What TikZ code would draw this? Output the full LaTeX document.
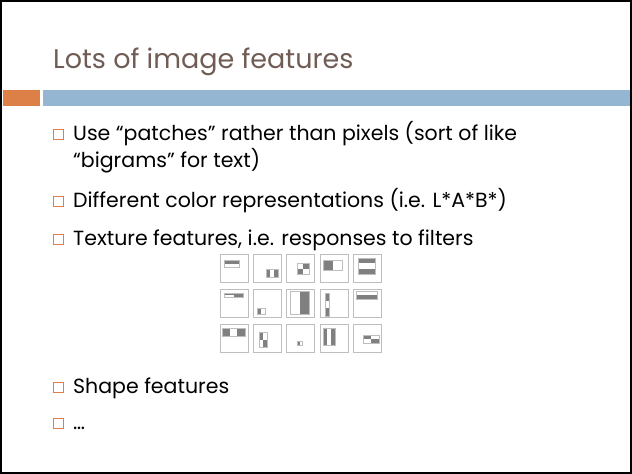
\documentclass[tikz,border=0pt]{standalone}
\usepackage{fontspec}
\setmainfont{Poppins}
\definecolor{titlecol}{RGB}{112,92,84}
\definecolor{orangec}{RGB}{221,128,71}
\definecolor{bluec}{RGB}{148,182,210}
\definecolor{hdark}{RGB}{128,128,128}
\definecolor{hline}{RGB}{190,190,190}
\newcommand\hd[4]{\fill[hdark] (#1,#2) rectangle (#3,#4);}
\newcommand\ho[4]{\draw[hline,line width=0.7pt] (#1,#2) rectangle (#3,#4);}
\begin{document}
\begin{tikzpicture}[x=1pt,y=-1pt,
  titletext/.style={font=\fontsize{27}{32}\selectfont, text=titlecol, inner sep=0pt, anchor=base west},
  bodytext/.style={font=\fontsize{20.5}{25}\selectfont, text=black, inner sep=0pt, anchor=base west},
  bul/.style={draw=orangec, line width=0.9pt, minimum size=10pt, inner sep=0pt, fill=white},
  cellbox/.style={draw=hline, line width=0.9pt}]
\useasboundingbox (0,0) rectangle (632,474);
\draw[line width=2pt, black] (1,1) rectangle (631,473);
\fill[orangec] (3,90) rectangle (40,106);
\fill[bluec] (43,90) rectangle (630,106);
\node[titletext] (title) at (53,68) {Lots of image features};
% bullets
\node[bul] (b1) at (58.5,134) {};
\node[bul] (b2) at (58.5,201) {};
\node[bul] (b3) at (58.5,239) {};
\node[bul] (b4) at (58.5,387) {};
\node[bul] (b5) at (58.5,423.5) {};
\node[bodytext] (t1) at (73,140) {Use “patches” rather than pixels (sort of like};
\node[bodytext] (t1b) at (73,167) {“bigrams” for text)};
\node[bodytext] (t2) at (73,207) {Different color representations (i.e. L*A*B*)};
\node[bodytext] (t3) at (73,245) {Texture features, i.e. responses to filters};
\node[bodytext] (t4) at (73,393) {Shape features};
\node[bodytext] (t5) at (73,429) {…};
% grid cells
\foreach \cx in {220,253,286.5,320,353}
  \foreach \cy in {254,289,324}
    \draw[cellbox] (\cx,\cy) rectangle ++(28,28);
% row 1
\hd{224}{260}{239}{263.5}\ho{224}{260}{239}{267}
\hd{266}{269}{270}{277}\hd{274}{269}{278}{277}\ho{266}{269}{278}{277}
\hd{303}{263}{309}{268.5}\hd{297}{268.5}{303}{274}\ho{297}{263}{309}{274}
\hd{323}{260}{332.5}{270}\ho{323}{260}{342}{270}
\hd{358}{258}{375}{263.3}\hd{358}{268.7}{375}{274}\ho{358}{258}{375}{274}
% row 2
\hd{224}{293}{243}{295}\hd{233.5}{295}{243}{297}\ho{224}{293}{243}{297}
\hd{257}{308}{261}{314}\ho{257}{308}{265}{314}
\hd{299.5}{291}{309}{314}\ho{290}{291}{309}{314}
\hd{325}{293}{329}{300.7}\hd{325}{308.3}{329}{316}\ho{325}{293}{329}{316}
\hd{356}{295}{377}{299}\ho{356}{291}{377}{299}
% row 3
\hd{222}{328}{229.7}{336}\hd{237.3}{328}{245}{336}\ho{222}{328}{245}{336}
\hd{259}{332}{263}{339.5}\hd{263}{339.5}{267}{347}\ho{259}{332}{267}{347}
\hd{297}{341}{299.5}{345}\ho{297}{341}{302}{345}
\hd{323}{328}{327}{345}\hd{331}{328}{335}{345}\ho{323}{328}{335}{345}
\hd{363}{335}{371}{339}\hd{371}{339}{379}{343}\ho{363}{335}{379}{343}
\end{tikzpicture}
\end{document}
